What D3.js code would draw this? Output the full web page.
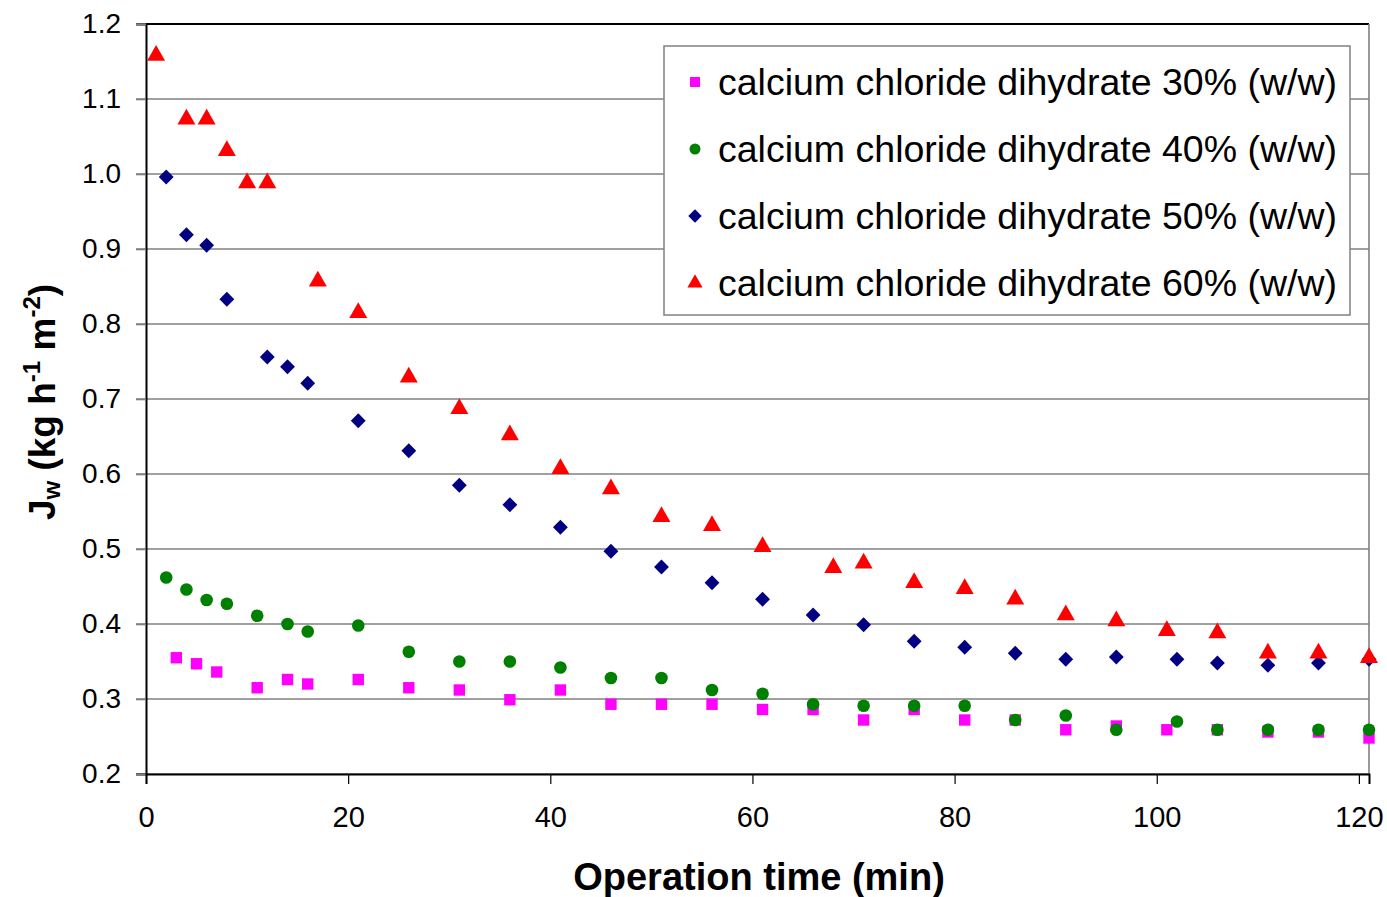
<!DOCTYPE html>
<html>
<head>
<meta charset="utf-8">
<script src="https://cdn.jsdelivr.net/npm/d3@7"></script>
<style>
  html, body { margin: 0; padding: 0; background: #fff; }
  svg { display: block; font-family: Arial, "Liberation Sans", sans-serif; }
</style>
</head>
<body>
<svg id="chart" width="1387" height="897"></svg>
<script>
// ---- data ----
const seriesNames = [
  "calcium chloride dihydrate 30% (w/w)",
  "calcium chloride dihydrate 40% (w/w)",
  "calcium chloride dihydrate 50% (w/w)",
  "calcium chloride dihydrate 60% (w/w)"
];
const seriesColors = ["#FF00FF", "#008000", "#000080", "#FF0000"];
const seriesSymbols = ["square", "circle", "diamond", "triangle"];

const time30 = [3, 5, 7, 11, 14, 16, 21, 26, 31, 36, 41, 46, 51, 56, 61, 66, 71, 76, 81, 86, 91, 96, 101, 106, 111, 116, 121];
const flux30 = [0.355, 0.347, 0.336, 0.315, 0.326, 0.320, 0.326, 0.315, 0.312, 0.299, 0.312, 0.293, 0.293, 0.293, 0.286, 0.286, 0.272, 0.286, 0.272, 0.272, 0.259, 0.264, 0.259, 0.259, 0.256, 0.256, 0.248];

const time40 = [2, 4, 6, 8, 11, 14, 16, 21, 26, 31, 36, 41, 46, 51, 56, 61, 66, 71, 76, 81, 86, 91, 96, 102, 106, 111, 116, 121];
const flux40 = [0.462, 0.446, 0.432, 0.427, 0.411, 0.400, 0.390, 0.398, 0.363, 0.350, 0.350, 0.342, 0.328, 0.328, 0.312, 0.307, 0.293, 0.291, 0.291, 0.291, 0.272, 0.278, 0.259, 0.270, 0.259, 0.259, 0.259, 0.259];

const time50 = [2, 4, 6, 8, 12, 14, 16, 21, 26, 31, 36, 41, 46, 51, 56, 61, 66, 71, 76, 81, 86, 91, 96, 102, 106, 111, 116, 121];
const flux50 = [0.996, 0.919, 0.905, 0.833, 0.756, 0.743, 0.721, 0.671, 0.631, 0.585, 0.559, 0.529, 0.497, 0.476, 0.455, 0.433, 0.412, 0.399, 0.377, 0.369, 0.361, 0.353, 0.356, 0.353, 0.348, 0.345, 0.348, 0.353];

const time60 = [1, 4, 6, 8, 10, 12, 17, 21, 26, 31, 36, 41, 46, 51, 56, 61, 68, 71, 76, 81, 86, 91, 96, 101, 106, 111, 116, 121];
const flux60 = [1.158, 1.073, 1.073, 1.031, 0.988, 0.988, 0.857, 0.815, 0.729, 0.687, 0.652, 0.607, 0.580, 0.543, 0.531, 0.503, 0.475, 0.481, 0.455, 0.447, 0.433, 0.412, 0.404, 0.391, 0.388, 0.361, 0.361, 0.355];

const xTicks = [0, 20, 40, 60, 80, 100, 120];
const yTicks = [0.2, 0.3, 0.4, 0.5, 0.6, 0.7, 0.8, 0.9, 1.0, 1.1, 1.2];
const xDomain = [0, 121];
const yDomain = [0.2, 1.2];

const times = [time30, time40, time50, time60];
const fluxes = [flux30, flux40, flux50, flux60];

// ---- layout ----
const svg = d3.select("#chart");
const plot = { left: 146, right: 1369, top: 24, bottom: 774 };

const x = d3.scaleLinear().domain(xDomain).range([plot.left, plot.right]);
const y = d3.scaleLinear().domain(yDomain).range([plot.bottom, plot.top]);

// gridlines (y) with gray outward ticks
svg.append("g").selectAll("line").data(yTicks).join("line")
  .attr("x1", plot.left - 10).attr("x2", plot.right)
  .attr("y1", d => y(d)).attr("y2", d => y(d))
  .attr("stroke", "#808080").attr("stroke-width", 1.6);

// plot frame: top black, right gray
svg.append("line").attr("x1", plot.left).attr("x2", plot.right)
  .attr("y1", plot.top).attr("y2", plot.top)
  .attr("stroke", "#000").attr("stroke-width", 2);
svg.append("line").attr("x1", plot.right).attr("x2", plot.right)
  .attr("y1", plot.top).attr("y2", plot.bottom)
  .attr("stroke", "#808080").attr("stroke-width", 1.6);

// y axis
const yAxis = d3.axisLeft(y).tickValues(yTicks).tickFormat(d3.format(".1f")).tickSize(10).tickPadding(15);
const yg = svg.append("g").attr("transform", `translate(${plot.left},0)`).call(yAxis);
yg.select(".domain").attr("stroke", "#000").attr("stroke-width", 2);
yg.selectAll(".tick line").attr("stroke", "#808080").attr("stroke-width", 1.6);
yg.selectAll(".tick text").attr("font-size", 28).attr("fill", "#000")
  .attr("font-family", "Arial, 'Liberation Sans', sans-serif");

// x axis
const xAxis = d3.axisBottom(x).tickValues(xTicks).tickFormat(d3.format("d")).tickSize(10).tickPadding(22);
const xg = svg.append("g").attr("transform", `translate(0,${plot.bottom})`).call(xAxis);
xg.select(".domain").attr("stroke", "#000").attr("stroke-width", 2);
xg.selectAll(".tick line").attr("stroke", "#000").attr("stroke-width", 1.2);
xg.selectAll(".tick text").attr("font-size", 29).attr("fill", "#000")
  .attr("font-family", "Arial, 'Liberation Sans', sans-serif");

// axis titles
svg.append("text")
  .attr("x", 759).attr("y", 890)
  .attr("text-anchor", "middle")
  .attr("font-size", 38).attr("font-weight", "bold")
  .text("Operation time (min)");

const yt = svg.append("text")
  .attr("transform", "translate(55,402) rotate(-90)")
  .attr("text-anchor", "middle")
  .attr("font-size", 37).attr("font-weight", "bold");
yt.append("tspan").text("J");
yt.append("tspan").attr("font-size", 24).attr("dy", 5).text("w");
yt.append("tspan").attr("dy", -5).text(" (kg h");
yt.append("tspan").attr("font-size", 24).attr("dy", -15).text("-1");
yt.append("tspan").attr("dy", 15).text(" m");
yt.append("tspan").attr("font-size", 24).attr("dy", -15).text("-2");
yt.append("tspan").attr("dy", 15).text(")");

// markers
const diamondType = {
  draw(context, size) {
    const r = Math.sqrt(size / 2);
    context.moveTo(0, -r); context.lineTo(r, 0); context.lineTo(0, r); context.lineTo(-r, 0); context.closePath();
  }
};
function symbolFor(name, size) {
  const map = { square: d3.symbolSquare, circle: d3.symbolCircle, diamond: diamondType, triangle: d3.symbolTriangle };
  return d3.symbol().type(map[name]).size(size)();
}
const sizes = { square: 130, circle: 125, diamond: 110, triangle: 140 };

seriesNames.forEach((name, i) => {
  const pts = times[i].map((t, j) => ({ t, v: fluxes[i][j] }));
  svg.append("g").selectAll("path").data(pts).join("path")
    .attr("d", symbolFor(seriesSymbols[i], sizes[seriesSymbols[i]]))
    .attr("transform", d => `translate(${x(d.t)},${y(d.v)})`)
    .attr("fill", seriesColors[i]);
});

// legend
const legend = { x: 664, y: 46, w: 686, h: 269 };
svg.append("rect").attr("x", legend.x).attr("y", legend.y)
  .attr("width", legend.w).attr("height", legend.h)
  .attr("fill", "#fff").attr("stroke", "#808080").attr("stroke-width", 1.5);
const rowY = [82, 149, 216, 283];
const legendSizes = { square: 100, circle: 95, diamond: 90, triangle: 100 };
seriesNames.forEach((name, i) => {
  svg.append("path")
    .attr("d", symbolFor(seriesSymbols[i], legendSizes[seriesSymbols[i]]))
    .attr("transform", `translate(695,${rowY[i]})`)
    .attr("fill", seriesColors[i]);
  svg.append("text")
    .attr("x", 718).attr("y", rowY[i] + 13)
    .attr("font-size", 37).attr("fill", "#000")
    .attr("textLength", 619).attr("lengthAdjust", "spacingAndGlyphs")
    .text(name);
});
</script>
</body>
</html>
